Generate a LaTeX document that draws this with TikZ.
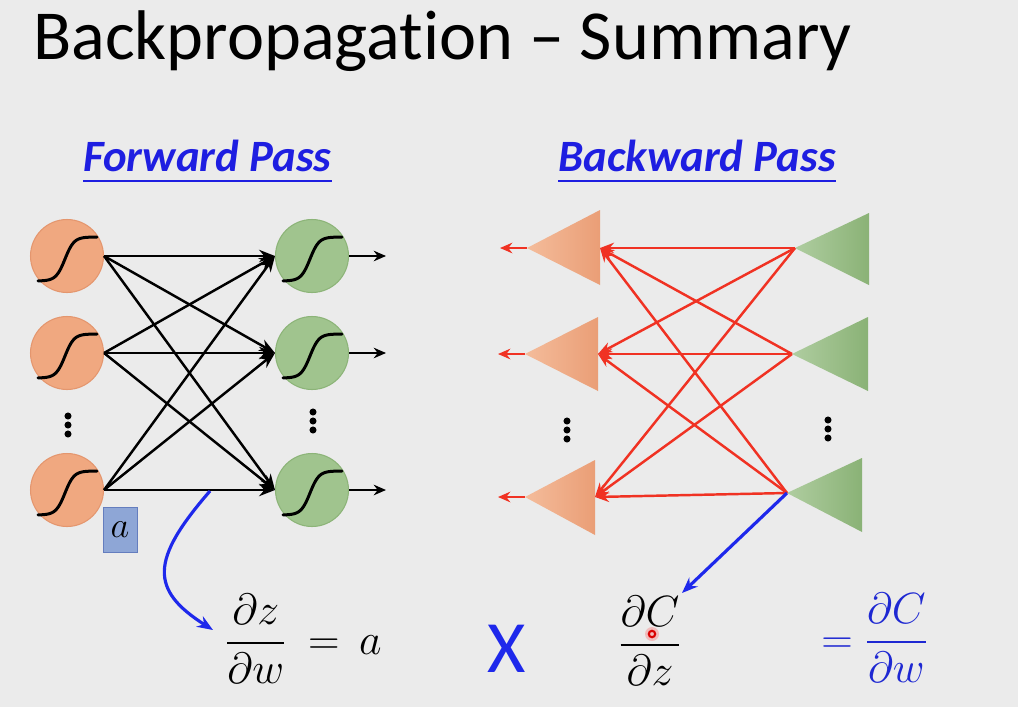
\documentclass[tikz,border=0pt]{standalone}
\usepackage{amsmath}
\usepackage{fontspec}
\setmainfont{Carlito}
\newfontfamily\titlefont[Ligatures=NoCommon]{Carlito}
\usetikzlibrary{arrows.meta,calc}
\definecolor{bg}{RGB}{235,235,235}
\definecolor{hblue}{RGB}{30,30,225}
\definecolor{fblue}{RGB}{30,40,210}
\definecolor{cblue}{RGB}{30,40,235}
\definecolor{orfill}{RGB}{240,168,128}
\definecolor{ordraw}{RGB}{228,150,110}
\definecolor{grfill}{RGB}{160,196,142}
\definecolor{grdraw}{RGB}{140,180,120}
\definecolor{orlight}{RGB}{244,188,155}
\definecolor{ordark}{RGB}{234,158,118}
\definecolor{grlight}{RGB}{175,205,160}
\definecolor{grdark}{RGB}{138,178,118}
\definecolor{redl}{RGB}{240,50,35}
\definecolor{abox}{RGB}{142,166,214}
\definecolor{aboxd}{RGB}{100,125,190}
\tikzset{
  neuronO/.style={circle, fill=orfill, draw=ordraw, line width=0.6pt, minimum size=1.46cm, inner sep=0},
  neuronG/.style={circle, fill=grfill, draw=grdraw, line width=0.6pt, minimum size=1.46cm, inner sep=0},
  fwd/.style={black, line width=1.4pt, -{Stealth[length=9pt,width=7pt]}},
  outarr/.style={black, line width=1.4pt, -{Stealth[length=7pt,width=6pt]}},
  bwd/.style={redl, line width=1.4pt, -{Stealth[length=8pt,width=6pt]}},
  bout/.style={redl, line width=1.5pt, -{Stealth[length=7pt,width=6pt]}},
  sig/.style={black, line width=1.7pt},
  dot/.style={circle, fill=black, inner sep=0, minimum size=4pt},
  head/.style={anchor=base west, inner sep=0, text=hblue, font=\fontsize{25.5}{28}\selectfont\bfseries\itshape},
  uline/.style={hblue, line width=1.7pt},
  bluearr/.style={cblue, line width=1.8pt, -{Stealth[length=9pt,width=7pt]}},
  formula/.style={inner sep=0, font=\fontsize{23}{28}\selectfont},
}
\begin{document}
\begin{tikzpicture}[x=0.02cm,y=-0.02cm]
\fill[bg] (0,0) rectangle (1018,707);
\useasboundingbox (0,0) rectangle (1018,707);

% title
\node[anchor=base west, inner sep=0, font=\fontsize{40}{44}\titlefont] (title) at (33,59) {Backpropagation – Summary};

% headers
\node[head] (fp) at (83,171) {Forward Pass};
\draw[uline] (fp.base west) ++(0,10) coordinate (fpu1) -- (fp.base east |- fpu1) coordinate (fpu2);
\node[head] (bp) at (558,171) {Backward Pass};
\draw[uline] (bp.base west) ++(0,10) coordinate (bpu1) -- (bp.base east |- bpu1) coordinate (bpu2);

% forward network
\node[neuronO] (o1) at (67,256) {};
\node[neuronO] (o2) at (67,353) {};
\node[neuronO] (o3) at (67,490) {};
\node[neuronG] (g1) at (312,256) {};
\node[neuronG] (g2) at (312,353) {};
\node[neuronG] (g3) at (312,490) {};
\foreach \n in {o1,o2,o3,g1,g2,g3}{
  \draw[sig, line cap=round, shift={(\n.center)}] plot[domain=-29:30, samples=50, smooth] ({\x},{25-44/(1+exp(-(\x+2)/4.5))});
}
\foreach \i in {1,2,3}{
  \foreach \j in {1,2,3}{
    \draw[fwd] (o\i.east) -- (g\j.west);
  }
  \coordinate (go\i) at ($(g\i.east)+(37,0)$);
  \draw[outarr] (g\i.east) -- (go\i);
}
\node[dot] (ld1) at (68,416) {};
\node[dot] (ld2) at (68,425) {};
\node[dot] (ld3) at (68,434) {};
\node[dot] (rd1) at (313,412) {};
\node[dot] (rd2) at (313,421) {};
\node[dot] (rd3) at (313,430) {};

% a box
\node[fill=abox, draw=aboxd, line width=0.5pt, minimum width=0.68cm, minimum height=0.9cm, inner sep=0, font=\fontsize{20}{24}\selectfont] (abox) at (120,530) {$a$};

% backward network
\coordinate (ot1) at (527,248); \coordinate (ob1) at (600,248);
\coordinate (ot2) at (525,354); \coordinate (ob2) at (598,354);
\coordinate (ot3) at (525,497); \coordinate (ob3) at (595,497);
\path[left color=orlight, right color=ordark] (ot1) -- (600,210) -- (600,285) -- cycle;
\path[left color=orlight, right color=ordark] (ot2) -- (598,317) -- (598,391) -- cycle;
\path[left color=orlight, right color=ordark] (ot3) -- (595,460) -- (595,535) -- cycle;
\coordinate (gt1) at (795,248);
\coordinate (gt2) at (792,354);
\coordinate (gt3) at (787,493);
\path[left color=grlight, right color=grdark] (gt1) -- (869,213) -- (869,285) -- cycle;
\path[left color=grlight, right color=grdark] (gt2) -- (868,317) -- (868,391) -- cycle;
\path[left color=grlight, right color=grdark] (gt3) -- (862,458) -- (862,532) -- cycle;
\foreach \i in {1,2,3}{
  \foreach \j in {1,2,3}{
    \draw[bwd] (gt\i) -- (ob\j);
  }
  \coordinate (oo\i) at ($(ot\i)+(-27,0)$);
  \draw[bout] (ot\i) -- (oo\i);
}
\node[dot] (bl1) at (567,421) {};
\node[dot] (bl2) at (567,430) {};
\node[dot] (bl3) at (567,439) {};
\node[dot] (br1) at (828,420) {};
\node[dot] (br2) at (828,429) {};
\node[dot] (br3) at (828,438) {};

% formulas
\node[formula, anchor=base west] (f1) at (225,654) {$\dfrac{\partial z}{\partial w} \mkern4mu=\mkern3mu a$};
\node[anchor=center, inner sep=0, text=cblue, font=\fontsize{42}{46}\selectfont] (times) at (507,649) {X};
\node[formula, anchor=base] (f2) at (650,656) {$\dfrac{\partial C}{\partial z}$};
\node[formula, anchor=base west, text=fblue] (f3) at (821,653) {$= \dfrac{\partial C}{\partial w}$};

% laser pointer mark
\fill[red!60, opacity=0.35] (652,634) circle (7);
\draw[red!85!black, line width=1.2pt] (652,634) circle (3.2);

% blue arrows
\coordinate (s1) at (210,491);
\coordinate (e1) at (213,630);
\draw[bluearr] (s1) .. controls (150,560) and (150,590) .. (e1);
\coordinate (e2) at (682,593);
\draw[bluearr] (gt3) -- (e2);
\end{tikzpicture}
\end{document}
